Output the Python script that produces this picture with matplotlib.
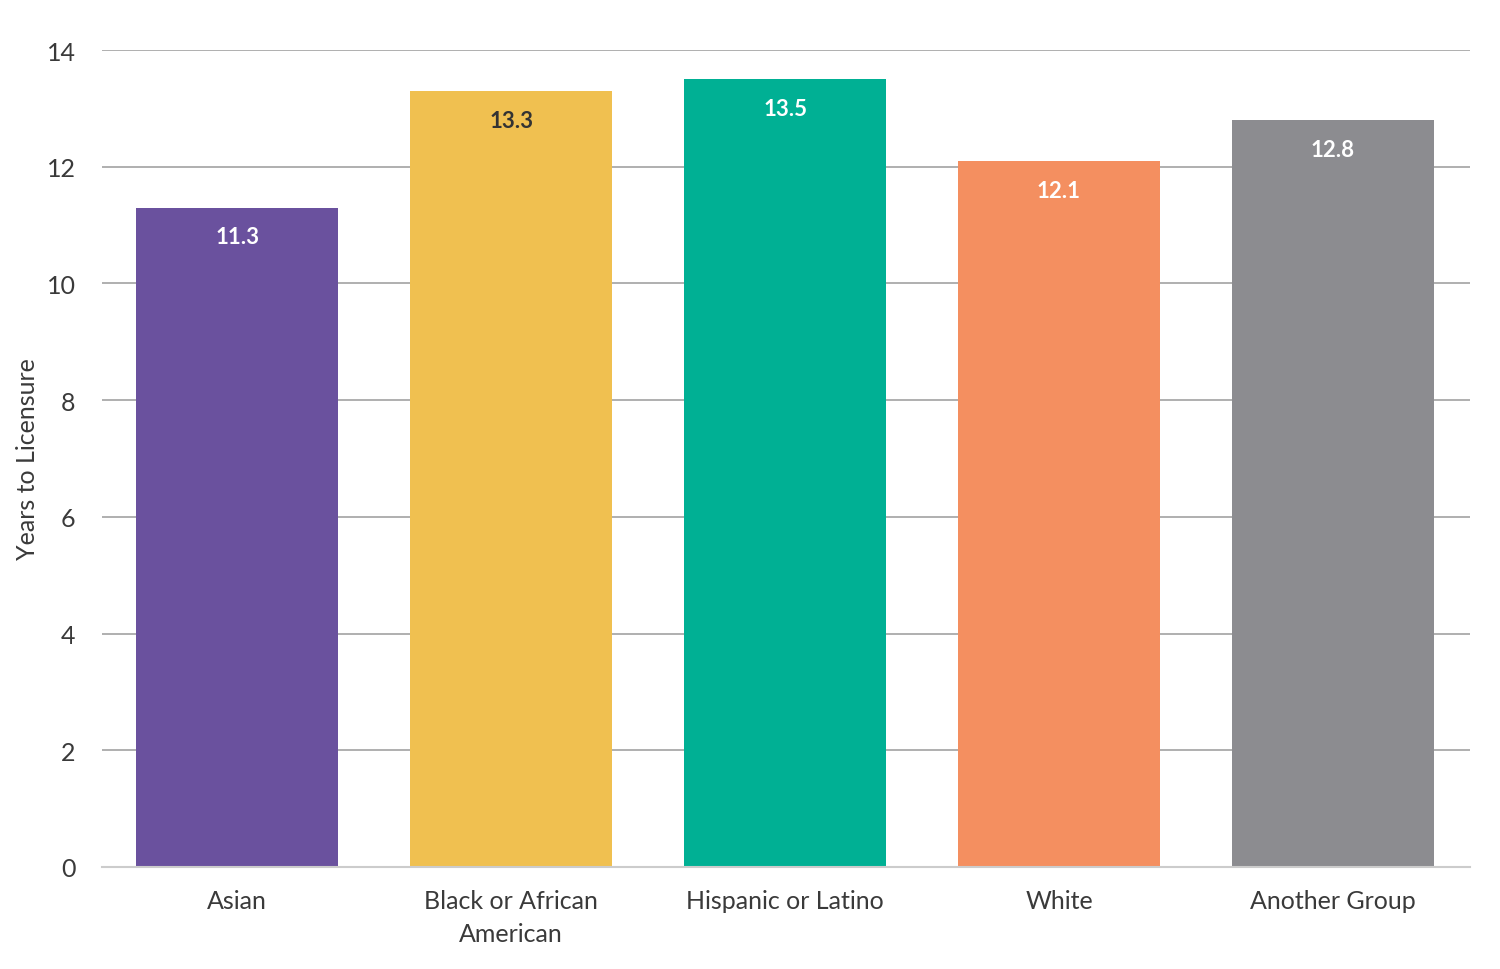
import matplotlib.pyplot as plt
import numpy as np

plt.rcParams['font.family'] = ['Lato', 'DejaVu Sans']

groups = ['Asian', 'Black or African\nAmerican', 'Hispanic or Latino', 'White', 'Another Group']
years = [11.3, 13.3, 13.5, 12.1, 12.8]
bar_colors = ['#6A519E', '#F0C050', '#00B094', '#F48F60', '#8C8C90']
label_colors = ['white', '#333333', 'white', 'white', 'white']
yticks = [0, 2, 4, 6, 8, 10, 12, 14]

fig = plt.figure(figsize=(15, 9.7), dpi=100)
ax = fig.add_axes([0.068, 0.1052, 0.912, 0.8422])

x = np.arange(len(groups))
ax.set_axisbelow(True)
ax.yaxis.grid(True, color='#9a9a9a', linewidth=1.1)
bars = ax.bar(x, years, width=0.74, color=bar_colors, zorder=2)

for b, v, c in zip(bars, years, label_colors):
    ax.annotate(f'{v}', (b.get_x() + b.get_width() / 2, v), xytext=(0, -21),
                textcoords='offset points', ha='center', va='center',
                fontsize=16, fontweight='bold', color=c)

ax.set_xlim(-0.493, 4.5)
ax.set_ylim(0, 14)
ax.set_yticks(yticks)
ax.set_xticks(x)
ax.set_xticklabels(groups, fontsize=18, color='#3a3a3a', linespacing=1.5)
ax.tick_params(axis='y', labelsize=18, labelcolor='#3a3a3a', length=0, pad=19)
ax.tick_params(axis='x', length=0, pad=16)
ax.set_ylabel('Years to Licensure', fontsize=18, color='#3a3a3a')
ax.yaxis.set_label_coords(-0.046, 0.5)

for s in ['top', 'right', 'left']:
    ax.spines[s].set_visible(False)
ax.spines['bottom'].set_color('#cccccc')
ax.spines['bottom'].set_linewidth(1.5)

fig.savefig('out.png', dpi=100)
